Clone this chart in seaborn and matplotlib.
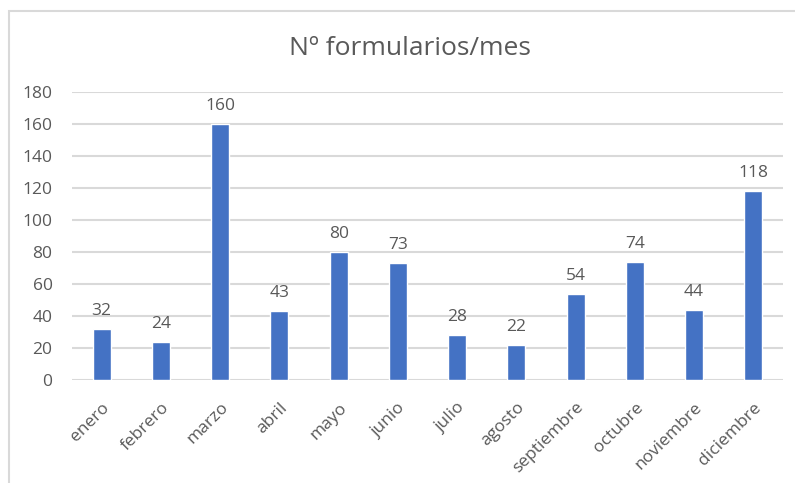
import matplotlib
matplotlib.use("Agg")
import matplotlib.pyplot as plt
from matplotlib.patches import Rectangle
import seaborn as sns
import pandas as pd

# data
meses = ["enero", "febrero", "marzo", "abril", "mayo", "junio", "julio",
         "agosto", "septiembre", "octubre", "noviembre", "diciembre"]
formularios = [32, 24, 160, 43, 80, 73, 28, 22, 54, 74, 44, 118]
y_ticks = [0, 20, 40, 60, 80, 100, 120, 140, 160, 180]

BAR_COLOR = "#4472C4"
TEXT_COLOR = "#595959"
GRID_COLOR = "#D9D9D9"

sns.set_style("white")
plt.rcParams["font.family"] = ["Open Sans", "DejaVu Sans"]

df = pd.DataFrame({"mes": meses, "n": formularios})

fig = plt.figure(figsize=(7.95, 4.83), dpi=100)
ax = fig.add_axes([72 / 795, 103 / 483, 711 / 795, 288 / 483])

sns.barplot(data=df, x="mes", y="n", color=BAR_COLOR, width=0.3,
            saturation=1, ax=ax)

ax.set_ylim(0, 180)
ax.set_yticks(y_ticks)
ax.set_xlim(-0.5, len(meses) - 0.5)
ax.set_xlabel("")
ax.set_ylabel("")
ax.yaxis.grid(True, color=GRID_COLOR, linewidth=1.5)
ax.set_axisbelow(True)
for s in ax.spines.values():
    s.set_visible(False)

ax.tick_params(axis="y", length=0, pad=14, labelsize=12.5, labelcolor=TEXT_COLOR)
ax.tick_params(axis="x", length=0, pad=14, labelsize=12.5, labelcolor=TEXT_COLOR)
for lbl in ax.get_xticklabels():
    lbl.set_rotation(45)
    lbl.set_ha("right")
    lbl.set_rotation_mode("anchor")

ax.bar_label(ax.containers[0], padding=7, fontsize=12.5, color=TEXT_COLOR)

fig.text(0.516, 0.90, "Nº formularios/mes", ha="center", va="center",
         fontsize=19, color=TEXT_COLOR)

# chart-area border (cropped at right/bottom in the reference)
fig.patches.append(Rectangle((9 / 795, -0.1), 1.2, 1.1 - 11 / 483,
                             transform=fig.transFigure, fill=False,
                             edgecolor=GRID_COLOR, linewidth=1.5))

fig.savefig("out.png", dpi=100, facecolor="white")
